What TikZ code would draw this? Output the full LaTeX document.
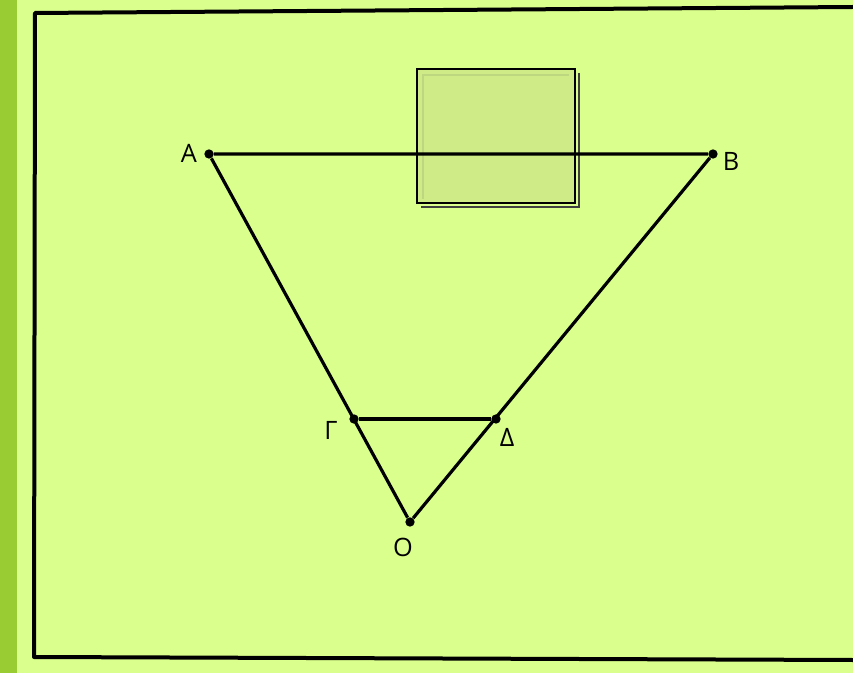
\documentclass[tikz,border=0pt]{standalone}
\usepackage{fontspec}
\setmainfont{Open Sans}
\definecolor{paper}{RGB}{218,255,140}
\definecolor{strip}{RGB}{153,204,51}
\definecolor{boxfill}{RGB}{206,235,135}
\tikzset{
  pt/.style={circle,fill=black,inner sep=0pt,minimum size=7pt},
  lbl/.style={font=\fontsize{19}{22}\selectfont,inner sep=1pt},
  seg/.style={line width=2.4pt}
}
\begin{document}
\begin{tikzpicture}[x=0.75pt,y=-0.75pt]
\useasboundingbox (0,0) rectangle (853,673);
\fill[paper] (0,0) rectangle (853,673);
\fill[strip] (0,0) rectangle (17,673);
% frame
\draw[line width=3pt,line join=round] (853,7) -- (35,13) -- (34,657) -- (853,660);
% square with shadow
\draw[black!75,line width=2pt] (421,207) -- (579,207) -- (579,73);
\fill[boxfill] (417,69) rectangle (575,203);
\draw[boxfill!80!black!90,line width=1.6pt,opacity=0.5] (423,199) -- (423,75) -- (569,75);
\draw[line width=1.4pt] (417,69) rectangle (575,203);
% points
\node[pt] (A) at (209,154) {};
\node[pt] (B) at (713,154) {};
\node[pt] (G) at (354,419) {};
\node[pt] (D) at (496,419) {};
\node[pt] (O) at (410,522) {};
\draw[seg] (A) -- (B) -- (O) -- (A);
\draw[seg] (G) -- (D);
% labels
\node[lbl] at (189,153) {Α};
\node[lbl] at (731,161) {Β};
\node[lbl] at (331,430) {Γ};
\node[lbl] at (507,437) {Δ};
\node[lbl] at (403,547) {Ο};
\end{tikzpicture}
\end{document}
